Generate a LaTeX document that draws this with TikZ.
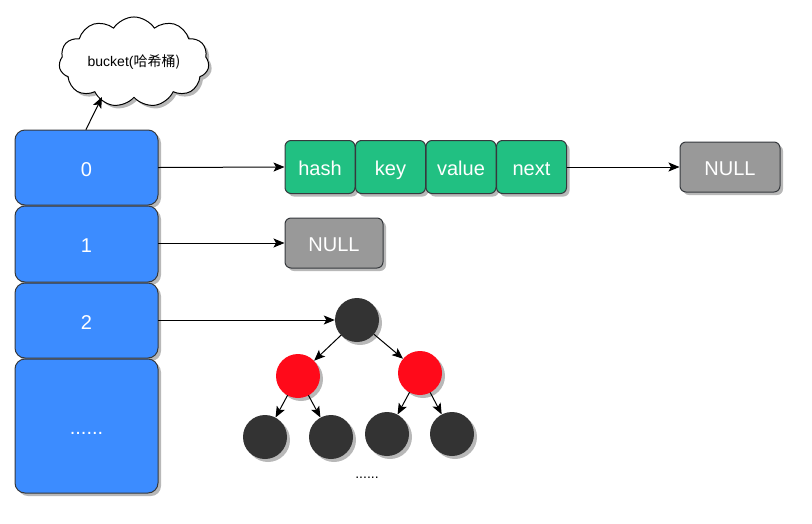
\documentclass[tikz,border=0pt]{standalone}
\usepackage{fontspec}
\setmainfont{Liberation Sans}
\newfontfamily\cjkfont{Noto Sans CJK SC}
\usetikzlibrary{arrows.meta,shapes.symbols,shadows}

\definecolor{bucketblue}{HTML}{3C8CFF}
\definecolor{entrygreen}{HTML}{21C082}
\definecolor{nullgray}{HTML}{999999}
\definecolor{nodeblack}{HTML}{333333}
\definecolor{nodered}{HTML}{FF0A1A}
\definecolor{edgedark}{HTML}{36393D}

\begin{document}
\begin{tikzpicture}[x=1pt,y=-1pt,line cap=round,line join=round,
    shade/.style={drop shadow={shadow xshift=3pt,shadow yshift=-3pt,fill=black!28,opacity=1}},
    bigtext/.style={text=white,font=\fontsize{20}{23}\selectfont,text height=17pt,text depth=0pt},
    bucketbox/.style={draw=edgedark,line width=1pt,fill=bucketblue,rounded corners=10pt,shade,
      minimum width=143pt,bigtext},
    entrybox/.style={draw=edgedark,line width=1pt,fill=entrygreen,rounded corners=6pt,shade,
      minimum width=70pt,minimum height=53pt,bigtext},
    nullbox/.style={draw=edgedark,line width=1pt,fill=nullgray,rounded corners=6pt,shade,
      minimum height=50pt,bigtext},
    rbnode/.style={circle,fill=#1,minimum size=44pt,inner sep=0pt,shade},
    arr/.style={-{Stealth[length=11pt,width=9pt,inset=2.5pt]},line width=1pt}]
  \useasboundingbox (0,0) rectangle (812,523);

  % bucket array
  \node[bucketbox,minimum height=75pt] (b0) at (86.5,167.5) {0};
  \node[bucketbox,minimum height=76pt] (b1) at (86.5,244) {1};
  \node[bucketbox,minimum height=75pt] (b2) at (86.5,320.5) {2};
  \node[bucketbox,minimum height=134pt] (b3) at (86.5,426) {......};

  % cloud label
  \node[cloud,cloud puffs=11,cloud puff arc=115,aspect=1.8,draw,line width=1pt,fill=white,shade,
    minimum width=150pt,minimum height=78pt,inner sep=0pt,font=\fontsize{14}{16}\selectfont]
    (cloud) at (134,62) {bucket(\cjkfont 哈希桶)};
  \coordinate (cloudtip) at (102,97);
  \draw[arr] ([xshift=-0.5pt]b0.north) -- (cloudtip);

  % linked list of entries
  \node[entrybox] (hash) at (320,167) {hash};
  \node[entrybox] (key) at (390.5,167) {key};
  \node[entrybox] (value) at (461,167) {value};
  \node[entrybox] (next) at (531.5,167) {next};
  \node[nullbox,minimum width=100pt] (null0) at (730,167) {NULL};
  \node[nullbox,minimum width=98pt] (null1) at (334,243) {NULL};

  \draw[arr] (b0.east) -- (hash.west);
  \draw[arr] (next.east) -- (null0.west);
  \draw[arr] (b1.east |- null1.west) -- (null1.west);

  % red-black tree
  \node[rbnode=nodeblack] (root) at (357,320) {};
  \node[rbnode=nodered] (lred) at (298,376) {};
  \node[rbnode=nodered] (rred) at (420,373) {};
  \node[rbnode=nodeblack] (leaf1) at (265,437) {};
  \node[rbnode=nodeblack] (leaf2) at (331,437) {};
  \node[rbnode=nodeblack] (leaf3) at (387,434) {};
  \node[rbnode=nodeblack] (leaf4) at (452,434) {};
  \node[font=\fontsize{14}{16}\selectfont] (dots) at (367,478) {......};

  \draw[arr] (b2.east |- root.west) -- (root.west);
  \draw[arr] (root) -- (lred);
  \draw[arr] (root) -- (rred);
  \draw[arr] (lred) -- (leaf1);
  \draw[arr] (lred) -- (leaf2);
  \draw[arr] (rred) -- (leaf3);
  \draw[arr] (rred) -- (leaf4);
\end{tikzpicture}
\end{document}
